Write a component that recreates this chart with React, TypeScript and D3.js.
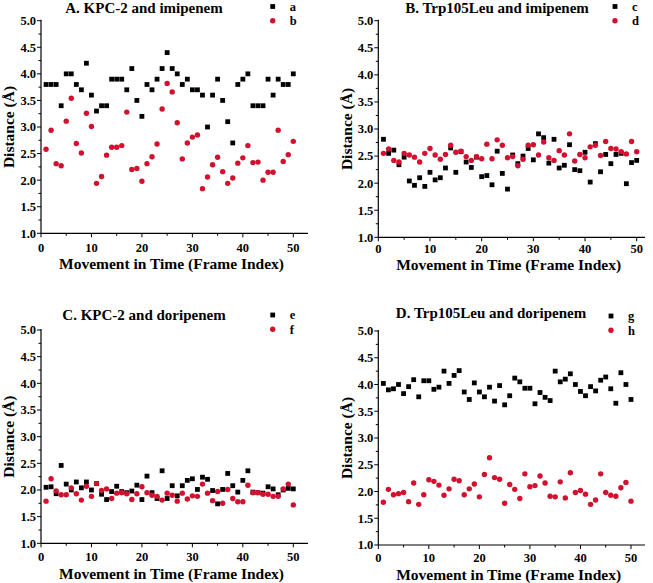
import React from "react";
import * as d3 from "d3";

const frames = d3.range(1, 51);

const seriesA = [3.8,3.8,3.8,3.4,4.0,4.0,3.8,3.7,4.2,3.6,3.3,3.4,3.4,3.9,3.9,3.9,3.7,4.1,3.5,3.2,3.8,3.7,3.9,4.1,4.4,4.1,4.0,3.8,3.9,3.7,3.7,3.6,3.0,3.6,3.9,3.5,3.1,2.7,3.8,3.9,4.0,3.4,3.4,3.4,3.9,3.6,3.9,3.8,3.8,4.0];
const seriesB = [2.58,2.94,2.31,2.27,3.11,3.54,2.69,2.51,3.26,3.01,1.94,2.07,2.47,2.62,2.62,2.65,3.28,2.20,2.22,1.98,2.31,2.44,2.68,3.34,3.82,3.66,3.08,2.40,2.70,2.81,2.85,1.84,2.06,2.29,2.43,2.16,1.94,2.04,2.32,2.42,2.65,2.33,2.34,2.00,2.15,2.15,2.94,2.35,2.48,2.73];
const seriesC = [2.81,2.55,2.61,2.34,2.48,2.04,1.96,2.10,1.94,2.20,2.06,2.10,2.28,2.65,2.20,2.58,2.39,2.29,2.48,2.12,2.14,1.97,2.59,2.18,1.89,2.52,2.36,2.50,2.64,2.43,2.91,2.84,2.37,2.81,2.28,2.33,2.71,2.25,2.23,2.57,2.02,2.73,2.21,2.53,2.36,2.53,2.55,1.99,2.38,2.42];
const seriesD = [2.55,2.63,2.42,2.39,2.55,2.52,2.48,2.39,2.55,2.64,2.52,2.44,2.53,2.70,2.57,2.59,2.49,2.42,2.49,2.45,2.72,2.45,2.80,2.70,2.47,2.49,2.32,2.44,2.70,2.71,2.52,2.76,2.47,2.42,2.60,2.52,2.91,2.41,2.53,2.47,2.67,2.70,2.51,2.77,2.64,2.63,2.58,2.54,2.77,2.58];
const seriesE = [2.05,2.06,1.93,2.46,2.11,2.00,2.15,2.04,2.15,2.00,2.12,1.92,1.82,1.97,2.07,1.97,1.95,1.98,2.09,1.82,2.26,1.95,1.84,2.36,1.84,2.08,1.89,2.08,2.18,2.21,2.01,2.24,2.20,1.99,1.74,2.01,2.31,2.08,1.96,2.18,2.36,1.96,1.95,1.94,2.06,2.02,1.91,2.00,2.03,2.02];
const seriesF = [1.79,2.21,1.98,1.91,1.91,2.04,1.93,1.81,2.07,1.88,2.12,1.99,2.02,1.84,1.94,1.95,1.93,1.82,1.93,2.06,1.95,1.90,1.88,1.81,1.94,1.90,1.79,1.94,1.83,1.89,1.88,2.11,1.94,1.80,1.97,1.75,2.01,1.84,1.78,1.78,2.09,1.95,1.95,1.92,1.92,1.88,1.88,2.02,2.11,1.72];
const seriesG = [4.02,3.90,3.92,4.00,3.83,3.96,4.09,3.77,4.07,4.07,3.91,3.95,4.25,4.02,4.17,4.26,3.86,3.72,4.03,3.86,3.77,3.95,3.69,3.98,3.62,3.79,4.12,4.05,3.93,3.93,3.64,3.85,3.76,3.70,4.25,4.05,4.10,4.20,4.00,3.87,3.79,3.96,3.88,4.08,4.14,3.92,3.65,4.22,4.00,3.72];
const seriesH = [1.80,2.04,1.94,1.96,1.98,1.81,2.16,1.76,1.94,2.22,2.19,2.12,1.93,2.05,2.23,2.20,1.94,2.05,2.14,1.90,2.32,2.63,2.26,2.23,1.78,2.13,2.04,1.87,2.33,2.09,2.11,2.29,2.16,1.91,1.90,2.18,1.88,2.35,1.98,2.02,1.95,1.76,1.84,2.33,1.98,1.93,1.91,2.07,2.17,1.82];

const yTickValues = [1.0, 1.5, 2.0, 2.5, 3.0, 3.5, 4.0, 4.5, 5.0];
const xTickValues = [0, 10, 20, 30, 40, 50];
const titles = ["A.  KPC-2 and imipenem", "B.  Trp105Leu and imipenem", "C.  KPC-2 and doripenem", "D.  Trp105Leu and doripenem"];
const legendNames = [["a", "b"], ["c", "d"], ["e", "f"], ["g", "h"]];
const xTitle = "Movement in Time (Frame Index)";
const yTitle = "Distance (Å)";

const RED = "#d3102e";
const FONT = "'Liberation Serif', 'Times New Roman', serif";

type Layout = {
  x0: number; x50: number; xEnd: number; yTop: number; yBot: number;
  titleX: number; titleY: number; legX: number; legY: number;
  xLabY: number; xTitleY: number; yTitleX: number;
};

const layouts: Layout[] = [
  { x0: 41, x50: 293.3, xEnd: 308, yTop: 20.7, yBot: 233.3, titleX: 144, titleY: 7.5, legX: 272.7, legY: 6.5, xLabY: 247.5, xTitleY: 264, yTitleX: 9 },
  { x0: 378.3, x50: 636.7, xEnd: 645, yTop: 20.7, yBot: 237.3, titleX: 497, titleY: 7.5, legX: 615, legY: 6.5, xLabY: 249, xTitleY: 265, yTitleX: 347 },
  { x0: 41, x50: 293.3, xEnd: 308, yTop: 330, yBot: 543.3, titleX: 144, titleY: 315, legX: 272.7, legY: 315, xLabY: 556.5, xTitleY: 573.5, yTitleX: 9 },
  { x0: 378.3, x50: 631, xEnd: 645, yTop: 331, yBot: 545, titleX: 491, titleY: 313, legX: 611, legY: 316, xLabY: 558, xTitleY: 575, yTitleX: 347 },
];

const panelData = [
  [seriesA, seriesB],
  [seriesC, seriesD],
  [seriesE, seriesF],
  [seriesG, seriesH],
];

function Panel({ i }: { i: number }) {
  const L = layouts[i];
  const [black, red] = panelData[i];
  const x = d3.scaleLinear().domain([0, 50]).range([L.x0, L.x50]);
  const y = d3.scaleLinear().domain([1, 5]).range([L.yBot, L.yTop]);
  const xMax = x.invert(L.xEnd);
  const yMinor = d3.range(1, 5.001, 0.25);
  const xMinor = d3.range(0, xMax, 5);
  const sq = 4.8;
  return (
    <g>
      <line x1={L.x0} x2={L.x0} y1={L.yBot} y2={L.yTop - 1} stroke="#000" strokeWidth={1.2} />
      <line x1={L.x0} x2={L.xEnd} y1={L.yBot} y2={L.yBot} stroke="#000" strokeWidth={1.2} />
      {yMinor.map((v, k) => {
        const major = Math.abs(v * 2 - Math.round(v * 2)) < 1e-6;
        return <line key={"ym" + k} x1={L.x0} x2={L.x0 - (major ? 4 : 2.5)} y1={y(v)} y2={y(v)} stroke="#000" strokeWidth={1} />;
      })}
      {xMinor.map((v, k) => {
        const major = v % 10 === 0;
        return <line key={"xm" + k} x1={x(v)} x2={x(v)} y1={L.yBot} y2={L.yBot + (major ? 4 : 2.5)} stroke="#000" strokeWidth={1} />;
      })}
      {yTickValues.map((v) => (
        <text key={"yl" + v} x={L.x0 - 5} y={y(v)} dy="0.35em" textAnchor="end" fontSize={12.5} fontWeight="bold" fontFamily={FONT}>{v.toFixed(1)}</text>
      ))}
      {xTickValues.map((v) => (
        <text key={"xl" + v} x={x(v)} y={L.xLabY} dy="0.35em" textAnchor="middle" fontSize={12.5} fontWeight="bold" fontFamily={FONT}>{v}</text>
      ))}
      <text x={(L.x0 + L.xEnd) / 2 - 3} y={L.xTitleY} dy="0.35em" textAnchor="middle" fontSize={15.5} fontWeight="bold" fontFamily={FONT}>{xTitle}</text>
      <text transform={`translate(${L.yTitleX},${(L.yTop + L.yBot) / 2}) rotate(-90)`} dy="0.35em" textAnchor="middle" fontSize={15.5} fontWeight="bold" fontFamily={FONT}>{yTitle}</text>
      <text x={L.titleX} y={L.titleY} dy="0.35em" textAnchor="middle" fontSize={15} fontWeight="bold" fontFamily={FONT}>{titles[i]}</text>
      <rect x={L.legX - sq / 2} y={L.legY - sq / 2} width={sq} height={sq} fill="#000" />
      <text x={L.legX + 17} y={L.legY} dy="0.35em" fontSize={12.5} fontWeight="bold" fontFamily={FONT}>{legendNames[i][0]}</text>
      <circle cx={L.legX} cy={L.legY + 14.3} r={2.7} fill={RED} />
      <text x={L.legX + 17} y={L.legY + 14.3} dy="0.35em" fontSize={12.5} fontWeight="bold" fontFamily={FONT}>{legendNames[i][1]}</text>
      {frames.map((f, k) => (
        <rect key={"b" + k} x={x(f) - sq / 2} y={y(black[k]) - sq / 2} width={sq} height={sq} fill="#000" />
      ))}
      {frames.map((f, k) => (
        <circle key={"r" + k} cx={x(f)} cy={y(red[k])} r={2.7} fill={RED} />
      ))}
    </g>
  );
}

export default function App() {
  return (
    <svg width={653} height={583} style={{ position: "absolute", left: 0, top: 0, background: "#fff" }}>
      <rect width={653} height={583} fill="#fff" />
      {[0, 1, 2, 3].map((i) => <Panel key={i} i={i} />)}
    </svg>
  );
}
